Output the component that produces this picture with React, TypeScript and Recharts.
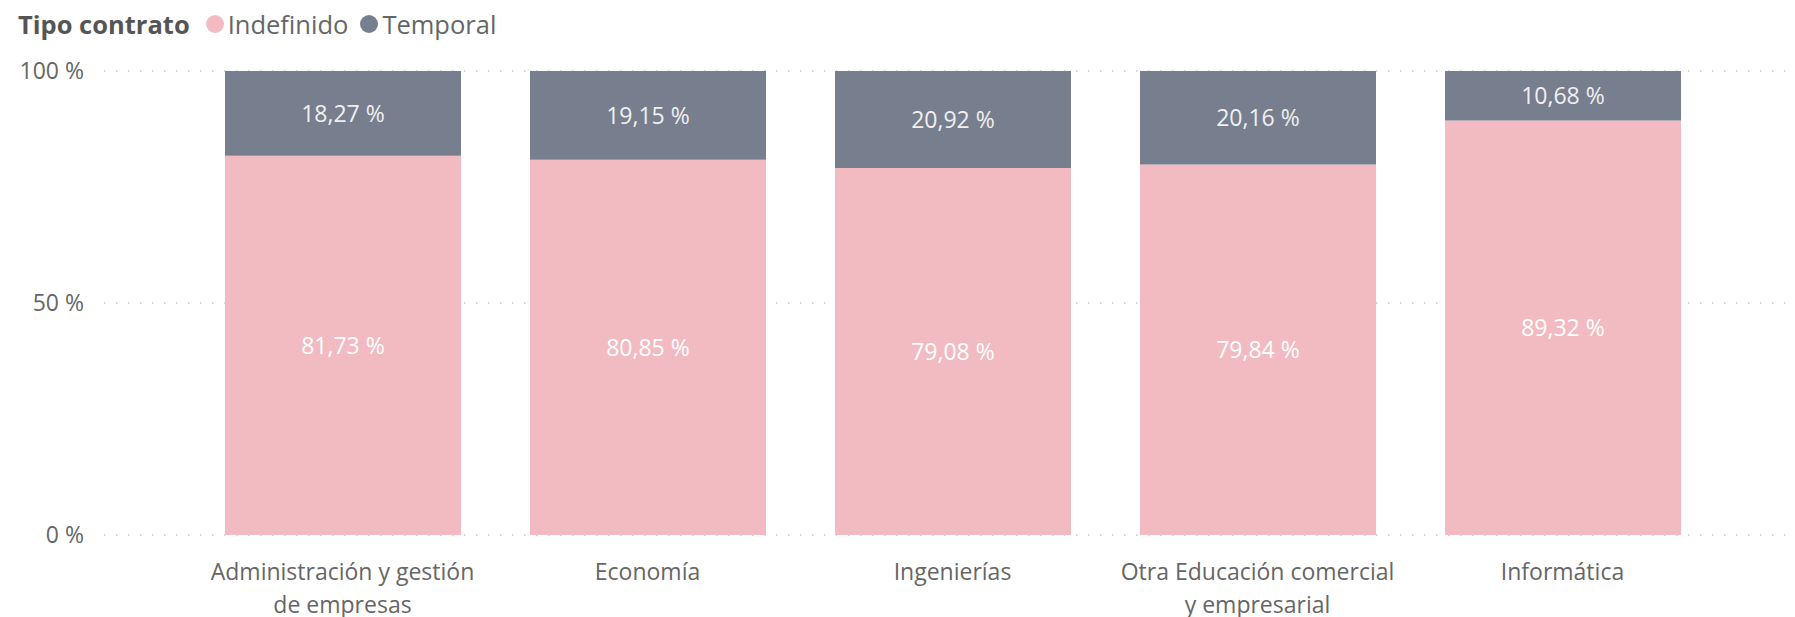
import { BarChart, Bar, XAxis, YAxis, CartesianGrid, LabelList } from "recharts";

const categories = [
  "Administración y gestión de empresas",
  "Economía",
  "Ingenierías",
  "Otra Educación comercial y empresarial",
  "Informática",
];
const indefinido = [81.73, 80.85, 79.08, 79.84, 89.32];
const temporal = [18.27, 19.15, 20.92, 20.16, 10.68];
const yTicks = [0, 50, 100];

const PINK = "#F2BBC1";
const GRAY = "#777E8E";
const TEXT = "#666666";
const FONT = "'Segoe UI', 'Open Sans', sans-serif";

const data = categories.map((name, i) => ({
  name,
  Indefinido: indefinido[i],
  Temporal: temporal[i],
}));

const fmt = (v: any) => Number(v).toFixed(2).replace(".", ",") + " %";

// simple greedy wrap, power bi breaks around 24 chars here
function wrap(s: string, max = 24) {
  const lines: string[] = [];
  let cur = "";
  for (const w of s.split(" ")) {
    const next = cur ? cur + " " + w : w;
    if (next.length > max && cur) {
      lines.push(cur);
      cur = w;
    } else cur = next;
  }
  if (cur) lines.push(cur);
  return lines;
}

function CategoryTick(props: any) {
  const { x, y, payload } = props;
  const lines = wrap(String(payload.value));
  return (
    <text
      x={x}
      y={y + 19}
      textAnchor="middle"
      fill={TEXT}
      style={{ fontSize: 23, fontFamily: FONT }}
    >
      {lines.map((l, i) => (
        <tspan key={i} x={x} dy={i === 0 ? "0.8em" : 33}>
          {l}
        </tspan>
      ))}
    </text>
  );
}

function LegendHeader() {
  const dot = (c: string, ml: number) => (
    <span
      style={{
        display: "inline-block",
        width: 18,
        height: 18,
        borderRadius: 9,
        background: c,
        marginRight: 4,
        marginLeft: ml,
      }}
    />
  );
  return (
    <div
      style={{
        position: "absolute",
        left: 18,
        top: 7,
        fontFamily: FONT,
        fontSize: 25.5,
        color: TEXT,
        display: "flex",
        alignItems: "center",
        whiteSpace: "nowrap",
      }}
    >
      <span style={{ fontWeight: 700, color: "#555" }}>Tipo contrato</span>
      {dot(PINK, 16)}
      <span>Indefinido</span>
      {dot(GRAY, 12)}
      <span>Temporal</span>
    </div>
  );
}

export default function App() {
  return (
    <div style={{ position: "absolute", left: 0, top: 0, width: 1795, height: 617, background: "#fff" }}>
      <LegendHeader />
      <BarChart
        width={1795}
        height={617}
        data={data}
        margin={{ top: 71, right: 8, bottom: 0, left: 0 }}
      >
        <CartesianGrid
          vertical={false}
          stroke="#c8c8c8"
          strokeDasharray="1.5 10.5"
          strokeWidth={1.5}
        />
        <XAxis
          dataKey="name"
          axisLine={false}
          tickLine={false}
          interval={0}
          height={82}
          padding={{ left: 86, right: 72 }}
          tick={<CategoryTick />}
        />
        <YAxis
          domain={[0, 100]}
          ticks={yTicks}
          width={104}
          axisLine={false}
          tickLine={false}
          tickSize={0}
          tickMargin={20}
          tickFormatter={(v) => `${v} %`}
          tick={{ fill: TEXT, fontSize: 23, fontFamily: FONT }}
        />
        <Bar dataKey="Indefinido" stackId="a" fill={PINK} barSize={236} isAnimationActive={false}>
          <LabelList
            dataKey="Indefinido"
            position="center"
            formatter={fmt}
            fill="#ffffff"
            style={{ fontSize: 23, fontFamily: FONT }}
          />
        </Bar>
        <Bar dataKey="Temporal" stackId="a" fill={GRAY} barSize={236} isAnimationActive={false}>
          <LabelList
            dataKey="Temporal"
            position="center"
            formatter={fmt}
            fill="#f0f0f0"
            style={{ fontSize: 23, fontFamily: FONT }}
          />
        </Bar>
      </BarChart>
    </div>
  );
}
